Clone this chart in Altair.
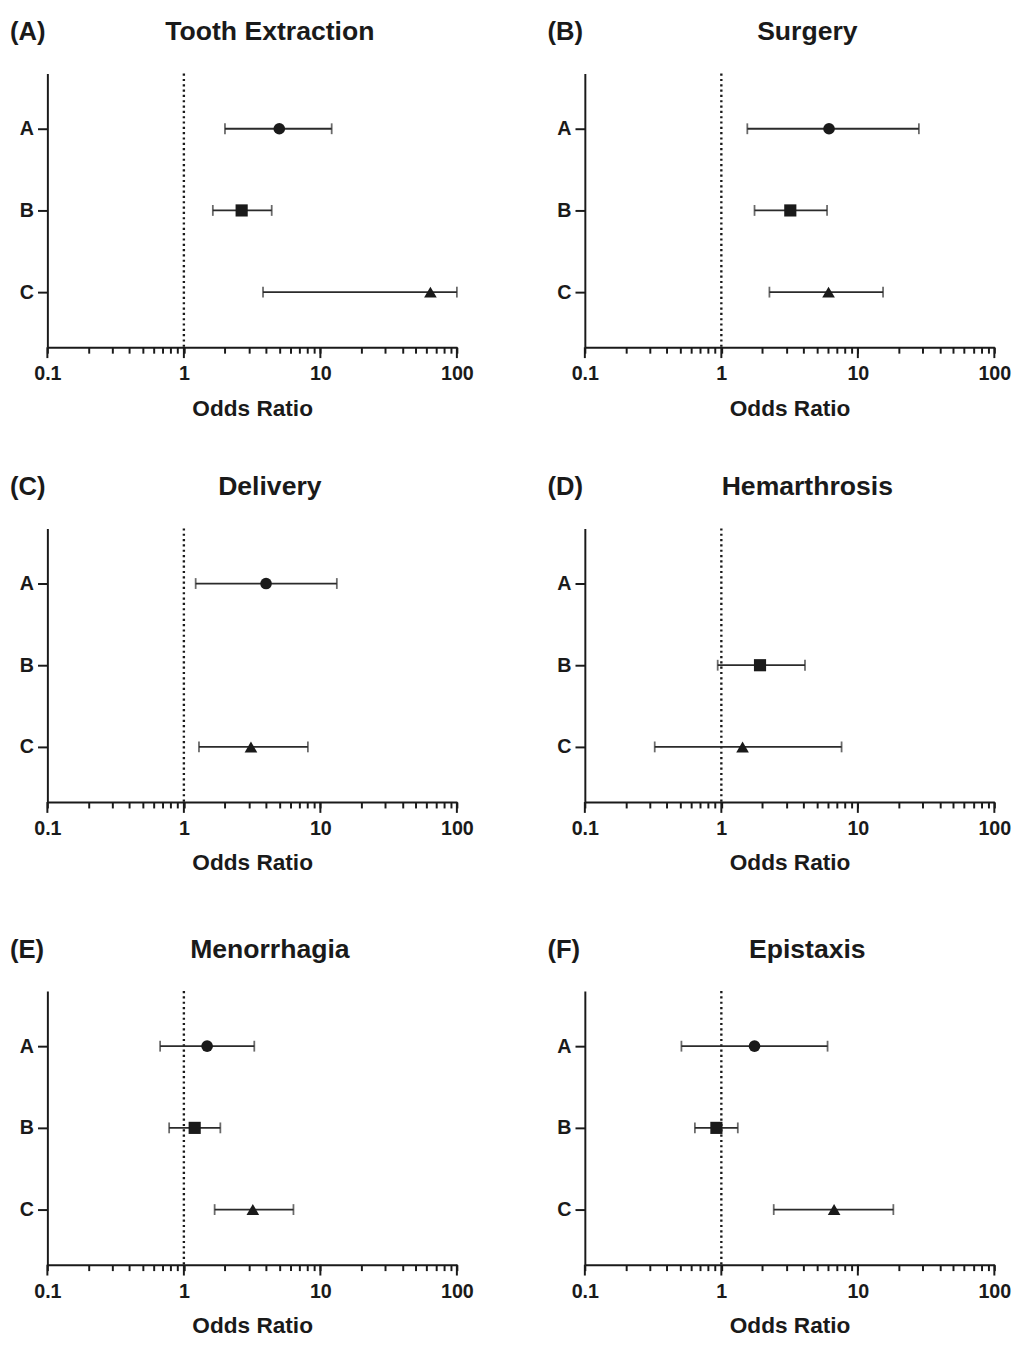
import altair as alt
import pandas as pd

CATS = ["A", "B", "C"]
PANELS = ["Tooth Extraction", "Surgery", "Delivery", "Hemarthrosis", "Menorrhagia", "Epistaxis"]
LETTERS = ["(A)", "(B)", "(C)", "(D)", "(E)", "(F)"]

# odds ratio, lower and upper 95% CI per panel, rows A, B, C (None = not shown)
OR_VALS = [
    [5.0, 2.65, 64.0],
    [6.15, 3.2, 6.1],
    [4.0, None, 3.1],
    [None, 1.92, 1.43],
    [1.48, 1.2, 3.2],
    [1.75, 0.92, 6.7],
]
LO_VALS = [
    [2.0, 1.63, 3.8],
    [1.55, 1.75, 2.25],
    [1.22, None, 1.29],
    [None, 0.94, 0.325],
    [0.67, 0.78, 1.68],
    [0.51, 0.64, 2.42],
]
HI_VALS = [
    [12.1, 4.4, 100.0],
    [28.0, 5.95, 15.3],
    [13.2, None, 8.1],
    [None, 4.1, 7.6],
    [3.28, 1.85, 6.35],
    [6.0, 1.32, 18.2],
]
REF_LINE = [1]
X_TICKS = [0.1, 0.2, 0.3, 0.4, 0.5, 0.6, 0.7, 0.8, 0.9,
           1, 2, 3, 4, 5, 6, 7, 8, 9,
           10, 20, 30, 40, 50, 60, 70, 80, 90, 100]
X_MAJOR = [0.1, 1, 10, 100]

FONT = "Liberation Sans"
INK = "#1a1a1a"
BAR = "#2b2b2b"
W, H = 416, 278

major_test = "indexof([0.1, 1, 10, 100], datum.value) >= 0"


def panel(i):
    df = pd.DataFrame({"cat": CATS, "or": OR_VALS[i], "lo": LO_VALS[i], "hi": HI_VALS[i]}).dropna()
    xscale = alt.Scale(type="log", domain=[0.1, 100], nice=False)
    yscale = alt.Scale(domain=CATS, type="point", padding=0.675)
    xaxis = alt.Axis(
        values=X_TICKS,
        labelExpr=f"{major_test} ? format(datum.value, '~g') : ''",
        tickSize=6,
        labelPadding=11,
        labelOverlap=False,
        labelFlush=False,
        grid=False,
        titlePadding=14,
    )
    yaxis = alt.Axis(grid=False, tickSize=10, labelPadding=4)

    def X(f):
        return alt.X(f, scale=xscale, axis=xaxis, title="Odds Ratio")

    def Y(f):
        return alt.Y(f, scale=yscale, axis=yaxis, title=None)

    base = alt.Chart(df)
    bars = base.mark_rule(color=BAR, strokeWidth=1.8).encode(
        x=X("lo:Q"), x2="hi:Q", y=Y("cat:N"),
    )
    cap_lo = base.mark_tick(color=BAR, thickness=1.8, size=11).encode(
        x=X("lo:Q"), y=Y("cat:N"),
    )
    cap_hi = base.mark_tick(color=BAR, thickness=1.8, size=11).encode(
        x=X("hi:Q"), y=Y("cat:N"),
    )
    pts = base.mark_point(filled=True, opacity=1, color=INK).encode(
        x=X("or:Q"),
        y=Y("cat:N"),
        shape=alt.Shape("cat:N", scale=alt.Scale(domain=CATS, range=["circle", "square", "triangle-up"]), legend=None),
        size=alt.Size("cat:O", scale=alt.Scale(domain=CATS, range=[140, 165, 175]), legend=None),
    )
    ref = alt.Chart(pd.DataFrame({"v": REF_LINE})).mark_rule(
        color=INK, strokeWidth=2.4, strokeDash=[2.2, 3.2]
    ).encode(x=X("v:Q"))
    major = alt.Chart(pd.DataFrame({"v": X_MAJOR})).mark_rule(
        color=INK, strokeWidth=2
    ).encode(x=X("v:Q"), y=alt.value(H), y2=alt.value(H + 11))
    letter = alt.Chart(pd.DataFrame({"t": [LETTERS[i]]})).mark_text(
        font=FONT, fontSize=26, fontWeight="bold", align="left", baseline="middle", color=INK
    ).encode(text="t:N", x=alt.value(-38), y=alt.value(-42))
    title = alt.Chart(pd.DataFrame({"t": [PANELS[i]]})).mark_text(
        font=FONT, fontSize=27, fontWeight="bold", align="center", baseline="middle", color=INK
    ).encode(text="t:N", x=alt.value(W / 2 + 18), y=alt.value(-42))
    return alt.layer(ref, major, bars, cap_lo, cap_hi, pts, letter, title).properties(width=W, height=H)


rows = [alt.hconcat(panel(2 * r), panel(2 * r + 1), spacing=75) for r in range(3)]
chart = alt.vconcat(
    rows[0], alt.vconcat(rows[1], rows[2], spacing=62), spacing=54
).properties(
    padding={"left": 2, "top": 0, "right": 5, "bottom": 2}
).configure_view(stroke=None).configure_axis(
    domainColor=INK, domainWidth=2, tickColor=INK, tickWidth=2,
    labelFont=FONT, labelFontSize=20, labelFontWeight="bold", labelColor=INK,
    titleFont=FONT, titleFontSize=23, titleFontWeight="bold", titleColor=INK,
)

chart.save("out.html", embed_options={"renderer": "svg", "actions": False})
